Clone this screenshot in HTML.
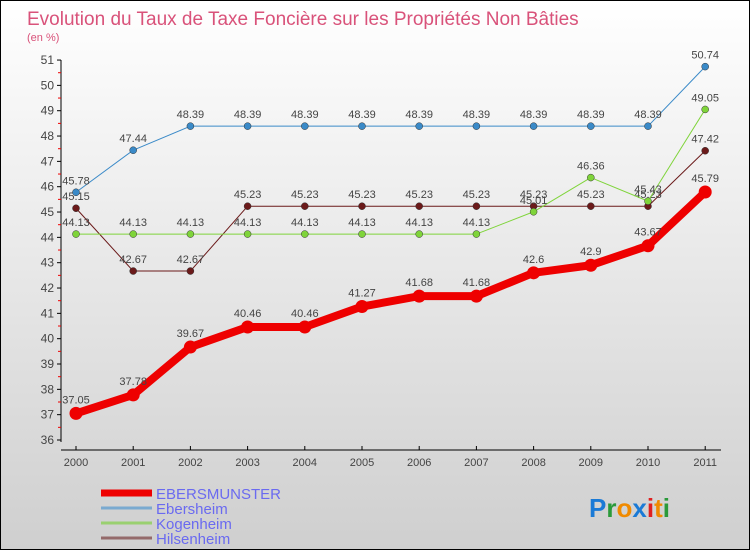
<!DOCTYPE html>
<html><head><meta charset="utf-8"><style>
body{margin:0}
#wrap{position:relative;width:748px;height:548px;border:1px solid #000;background:linear-gradient(#ffffff,#cfcfcf);font-family:"Liberation Sans",sans-serif;overflow:hidden}
svg text{font-family:"Liberation Sans",sans-serif}
</style></head><body>
<div id="wrap">
<svg id="chart" width="748" height="548">
<text x="26" y="24" font-size="19" fill="#d9527a">Evolution du Taux de Taxe Foncière sur les Propriétés Non Bâties</text>
<text x="26" y="40" font-size="11" fill="#d9527a">(en %)</text>
<text x="588" y="516" font-size="26" font-weight="bold"><tspan fill="#1a7ad6">P</tspan><tspan fill="#2a9a3a">r</tspan><tspan fill="#f08a00">o</tspan><tspan fill="#1a7ad6">x</tspan><tspan fill="#e02020">i</tspan><tspan fill="#f08a00">t</tspan><tspan fill="#2a9a3a">i</tspan></text>
</svg>
</div>
<script>
const years=["2000","2001","2002","2003","2004","2005","2006","2007","2008","2009","2010","2011"];
const yTicks=[36,37,38,39,40,41,42,43,44,45,46,47,48,49,50,51];
const ebersmunster=[37.05,37.78,39.67,40.46,40.46,41.27,41.68,41.68,42.6,42.9,43.67,45.79];
const ebersheim=[45.78,47.44,48.39,48.39,48.39,48.39,48.39,48.39,48.39,48.39,48.39,50.74];
const kogenheim=[44.13,44.13,44.13,44.13,44.13,44.13,44.13,44.13,45.01,46.36,45.43,49.05];
const hilsenheim=[45.15,42.67,42.67,45.23,45.23,45.23,45.23,45.23,45.23,45.23,45.23,47.42];
const NS="http://www.w3.org/2000/svg";
const svg=document.getElementById('chart');
const X0=75,DX=57.2,Y36=439,PU=25.33;
const xs=i=>X0+i*DX, ys=v=>Y36-(v-36)*PU;
function mk(t,a,p){const e=document.createElementNS(NS,t);for(const k in a)e.setAttribute(k,a[k]);(p||svg).appendChild(e);return e;}
// axes
let ax=mk('line',{x1:60,y1:ys(51),x2:60,y2:ys(36)+2,stroke:'#000'});


let bx=mk('line',{x1:60,y1:449,x2:720,y2:449,stroke:'#000'});


yTicks.forEach(v=>{
 mk('line',{x1:56,y1:ys(v),x2:60,y2:ys(v),stroke:'#000'});
 if(v<51)mk('line',{x1:57,y1:ys(v+0.5),x2:60,y2:ys(v+0.5),stroke:'#e00'});
 const t=mk('text',{x:53,y:ys(v)+4,'font-size':12,'text-anchor':'end',fill:'#444'});t.textContent=v;
 
 
});
years.forEach((y,i)=>{
 mk('line',{x1:xs(i),y1:445,x2:xs(i),y2:449,stroke:'#000'});
 const t=mk('text',{x:xs(i),y:465,'font-size':11,'text-anchor':'middle',fill:'#444'});t.textContent=y;
 
 
});
function series(data,color,w,r,name){
 const g=mk('g',{});
 
 
 mk('polyline',{points:data.map((v,i)=>xs(i)+','+ys(v)).join(' '),fill:'none',stroke:color,'stroke-width':w,'stroke-linejoin':'round'},g);
 data.forEach((v,i)=>{
  const c=mk('circle',{cx:xs(i),cy:ys(v),r:r,fill:color,stroke:w>3?'none':'#333','stroke-width':0.5},g);
  
  
  const t=mk('text',{x:xs(i),y:ys(v)-8-(w>3?2:0),'font-size':11,'text-anchor':'middle',fill:'#444'},g);t.textContent=v;
  
  
 });
}
series(hilsenheim,'#6b1a1a',1,3.5,'hilsenheim');
series(kogenheim,'#7fd43a',1,3.5,'kogenheim');
series(ebersheim,'#3a8ac8',1,3.5,'ebersheim');
series(ebersmunster,'#ee0000',8,6.5,'ebersmunster');
// legend
const leg=[['EBERSMUNSTER','#ee0000',7],['Ebersheim','#7aaad0',3],['Kogenheim','#9ad070',3],['Hilsenheim','#946a6a',3]];
leg.forEach((l,i)=>{
 const y=492+i*15;
 const g=mk('g',{});
 
 
 mk('line',{x1:100,y1:y,x2:151,y2:y,stroke:l[1],'stroke-width':l[2]},g);
 const t=mk('text',{x:155,y:y+6,'font-size':15,fill:'#6a6af0'},g);t.textContent=l[0];
});
</script>
</body></html>
